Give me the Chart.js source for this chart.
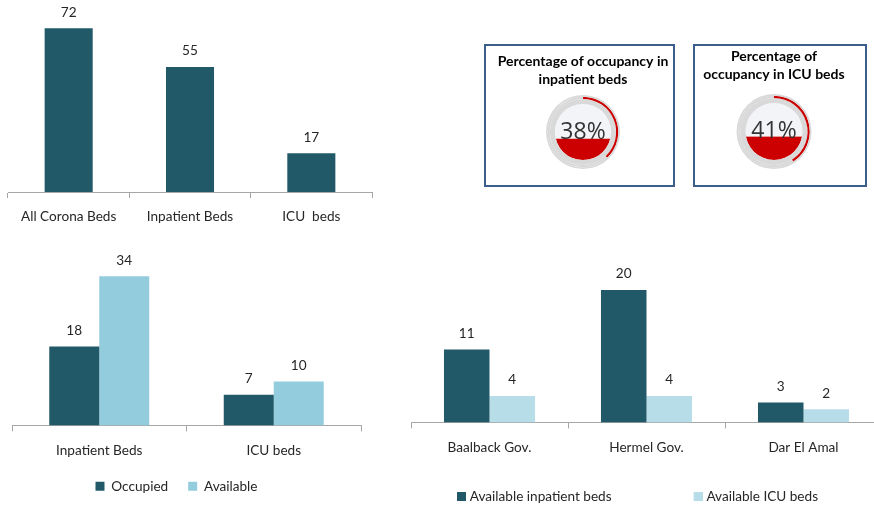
<!DOCTYPE html>
<html>
<head>
<meta charset="utf-8">
<script src="https://cdn.jsdelivr.net/npm/chart.js@4.4.1/dist/chart.umd.min.js"></script>
<style>
html, body { margin: 0; padding: 0; background: #fff; }
body { position: relative; width: 874px; height: 508px; overflow: hidden; }
canvas { position: absolute; }
.box { position: absolute; border: 2px solid #3b5e8c; box-sizing: border-box; background: #fff; }
</style>
</head>
<body>
<canvas id="totalChart" width="380" height="232" style="left:0;top:0"></canvas>
<div class="box" style="left:484px;top:44px;width:191px;height:143px">
  <canvas id="gauge0" width="187" height="139" style="left:0;top:0"></canvas>
</div>
<div class="box" style="left:693px;top:44px;width:174px;height:143px">
  <canvas id="gauge1" width="170" height="139" style="left:0;top:0"></canvas>
</div>
<canvas id="statusChart" width="378" height="263" style="left:-8px;top:240px"></canvas>
<canvas id="hospitalChart" width="515" height="273" style="left:375px;top:240px"></canvas>

<script>
// data
const totalLabels = ['All Corona Beds', 'Inpatient Beds', 'ICU  beds'];
const totalValues = [72, 55, 17];

const gaugeTitles = [['Percentage of occupancy in', 'inpatient beds'], ['Percentage of', 'occupancy in ICU beds']];
const gaugeValues = [38, 41];

const statusLabels = ['Inpatient Beds', 'ICU beds'];
const occupiedValues = [18, 7];
const availableValues = [34, 10];

const hospitalLabels = ['Baalback Gov.', 'Hermel Gov.', 'Dar El Amal'];
const availInpatient = [11, 20, 3];
const availIcu = [4, 4, 2];

const DARK = '#215968';
const LIGHT = '#93cddd';
const PALE = '#b7dee8';
const RED = '#cc0000';
const RING = '#d9d9d9';

Chart.defaults.font.family = 'Lato';
Chart.defaults.font.size = 13.6;
Chart.defaults.color = '#262626';
Chart.defaults.animation = false;

// numbers above the bars
const valueLabels = {
    id: 'valueLabels',
    afterDatasetsDraw(chart) {
        const ctx = chart.ctx;
        ctx.save();
        ctx.font = '13.6px Lato';
        ctx.fillStyle = '#262626';
        ctx.textAlign = 'center';
        ctx.textBaseline = 'middle';
        chart.data.datasets.forEach((ds, i) => {
            chart.getDatasetMeta(i).data.forEach((bar, j) => ctx.fillText(ds.data[j], bar.x, bar.y - 16));
        });
        ctx.restore();
    }
};

function xAxis(height, pad) {
    return {
        grid: { display: true, drawOnChartArea: false, color: '#a6a6a6', tickLength: 6, offset: true },
        border: { color: '#a6a6a6' },
        ticks: { padding: pad, maxRotation: 0, autoSkip: false },
        afterFit: s => { s.height = height; }
    };
}

function hiddenY(max, width) {
    return {
        display: true, min: 0, max: max,
        ticks: { display: false }, grid: { display: false }, border: { display: false },
        afterFit: s => { s.width = width; }
    };
}

new Chart(document.getElementById('totalChart'), {
    type: 'bar',
    data: {
        labels: totalLabels,
        datasets: [{ data: totalValues, backgroundColor: DARK, barPercentage: 0.396, categoryPercentage: 1 }]
    },
    options: {
        responsive: false,
        layout: { padding: { left: 8, right: 8, top: 10, bottom: 0 } },
        plugins: { legend: { display: false }, tooltip: { enabled: false } },
        scales: { x: xAxis(40, 10), y: { display: false, min: 0, max: 80 } }
    },
    plugins: [valueLabels]
});

new Chart(document.getElementById('statusChart'), {
    type: 'bar',
    data: {
        labels: statusLabels,
        datasets: [
            { label: 'Occupied', data: occupiedValues, backgroundColor: DARK, barPercentage: 1, categoryPercentage: 0.573 },
            { label: 'Available', data: availableValues, backgroundColor: LIGHT, barPercentage: 1, categoryPercentage: 0.573 }
        ]
    },
    options: {
        responsive: false,
        layout: { padding: { left: 0, right: 9, top: 10, bottom: 0 } },
        plugins: {
            tooltip: { enabled: false },
            legend: { position: 'bottom', align: 'center', labels: { boxWidth: 9, boxHeight: 9, padding: 20 } }
        },
        scales: { x: xAxis(34, 11), y: hiddenY(40, 20) }
    },
    plugins: [valueLabels]
});

// legend swatch: square at the right end of a wide transparent strip
function swatch(color) {
    const c = document.createElement('canvas');
    c.width = 84; c.height = 9;
    const g = c.getContext('2d');
    g.fillStyle = color;
    g.fillRect(75, 0, 9, 9);
    return c;
}

new Chart(document.getElementById('hospitalChart'), {
    type: 'bar',
    data: {
        labels: hospitalLabels,
        datasets: [
            { label: 'Available inpatient beds', data: availInpatient, backgroundColor: DARK, barPercentage: 1, categoryPercentage: 0.58 },
            { label: 'Available ICU beds', data: availIcu, backgroundColor: PALE, barPercentage: 1, categoryPercentage: 0.58 }
        ]
    },
    options: {
        responsive: false,
        layout: { padding: { left: 0, right: 8, top: 17, bottom: 0 } },
        plugins: {
            tooltip: { enabled: false },
            legend: {
                position: 'bottom', align: 'start',
                labels: {
                    usePointStyle: true, pointStyleWidth: 78, padding: 10,
                    generateLabels(chart) {
                        const items = Chart.defaults.plugins.legend.labels.generateLabels(chart);
                        items.forEach((it, i) => { it.pointStyle = swatch(chart.data.datasets[i].backgroundColor); });
                        return items;
                    }
                }
            }
        },
        scales: { x: xAxis(57, 11), y: hiddenY(25, 36) }
    },
    plugins: [valueLabels]
});

// gauges: ring + thin red arc from the doughnut, liquid fill inside
const liquidFill = {
    id: 'liquidFill',
    beforeDatasetsDraw(chart) {
        const arc = chart.getDatasetMeta(2).data[0];
        const value = chart.data.datasets[1].data[0];
        const r = arc.innerRadius, x = arc.x, y = arc.y;
        const ctx = chart.ctx;
        ctx.save();
        ctx.beginPath();
        ctx.arc(x, y, r, 0, Math.PI * 2);
        ctx.fillStyle = '#f3f4f8';
        ctx.fill();
        ctx.clip();
        const level = y + r - 2 * r * value / 100;
        ctx.fillStyle = RED;
        ctx.fillRect(x - r, level, 2 * r, y + r - level);
        ctx.restore();
    },
    afterDatasetsDraw(chart) {
        const arc = chart.getDatasetMeta(2).data[0];
        const ctx = chart.ctx;
        ctx.save();
        ctx.font = '23px "Open Sans"';
        ctx.fillStyle = '#333';
        ctx.textAlign = 'center';
        ctx.textBaseline = 'middle';
        ctx.fillText(chart.data.datasets[1].data[0] + '%', arc.x, arc.y);
        ctx.restore();
    }
};

const gaugePad = [
    { chart: { left: 7, right: 0, top: 0, bottom: 16 }, title: { top: 7, bottom: 7 } },
    { chart: { left: 0, right: 12, top: 0, bottom: 16 }, title: { top: 2, bottom: 11 } }
];

gaugeValues.forEach((v, i) => {
    new Chart(document.getElementById('gauge' + i), {
        type: 'doughnut',
        data: {
            datasets: [
                { data: [100], backgroundColor: [RING], weight: 1.5 },
                { data: [v, 100 - v], backgroundColor: [RED, RING], weight: 2 },
                { data: [100], backgroundColor: [RING], weight: 4.5 }
            ]
        },
        options: {
            responsive: false,
            cutout: '76%',
            borderWidth: 0,
            layout: { padding: gaugePad[i].chart },
            plugins: {
                legend: { display: false },
                tooltip: { enabled: false },
                title: {
                    display: true, text: gaugeTitles[i], color: '#000',
                    font: { size: 14, weight: 'bold', lineHeight: 1.25 },
                    padding: gaugePad[i].title
                }
            }
        },
        plugins: [liquidFill]
    });
});
</script>
</body>
</html>
